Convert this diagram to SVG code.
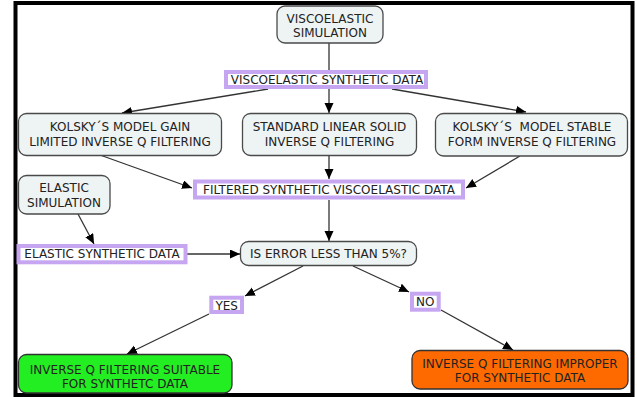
<svg xmlns="http://www.w3.org/2000/svg" width="637" height="397" viewBox="0 0 637 397">
<style>
text{font-family:"DejaVu Sans",Verdana,sans-serif;font-size:12px;fill:#222;text-anchor:middle}
.n{fill:#eef3f4;stroke:#4a4a4a;stroke-width:1.3}
.p{fill:#fff;stroke:#c6a6f0;stroke-width:4}
.c line{stroke:#333;stroke-width:1.3;marker-end:url(#ah)}
</style>
<defs>
<marker id="ah" markerUnits="userSpaceOnUse" markerWidth="11" markerHeight="10" refX="10" refY="4.5" orient="auto">
<path d="M0,0 L10,4.5 L0,9 z" fill="#000"/>
</marker>
</defs>
<rect x="0" y="0" width="637" height="397" fill="#fff"/>
<rect x="15.5" y="3" width="617" height="392" fill="#fff" stroke="#000" stroke-width="4"/>
<g class="c" id="connectors">
<line x1="329" y1="43" x2="329" y2="70" style="marker-end:none"/>
<line x1="268" y1="89" x2="122" y2="113"/>
<line x1="329" y1="89" x2="329" y2="113"/>
<line x1="392" y1="89" x2="526" y2="112"/>
<line x1="100" y1="155" x2="192" y2="188"/>
<line x1="329" y1="155" x2="329" y2="179"/>
<line x1="520" y1="156" x2="466" y2="188"/>
<line x1="329" y1="200" x2="329" y2="241"/>
<line x1="78" y1="214" x2="94" y2="244"/>
<line x1="187" y1="254" x2="240" y2="254"/>
<line x1="303" y1="266" x2="245" y2="296"/>
<line x1="209" y1="314" x2="127" y2="354"/>
<line x1="353" y1="266" x2="409" y2="292"/>
<line x1="441" y1="310" x2="513" y2="350"/>
</g>
<g id="viscoelastic-simulation">
<rect class="n" x="277" y="6" width="106" height="37" rx="8"/>
<text x="330" y="22.7">VISCOELASTIC</text>
<text x="330" y="36.7">SIMULATION</text>
</g>
<g id="viscoelastic-synthetic-data">
<rect class="p" x="226" y="72" width="200" height="15"/>
<text x="327" y="84">VISCOELASTIC SYNTHETIC DATA</text>
</g>
<g id="kolsky-gain">
<rect class="n" x="18.5" y="113.5" width="203" height="42" rx="8"/>
<text x="120" y="130.5">KOLSKY´S MODEL GAIN</text>
<text x="120" y="146">LIMITED INVERSE Q FILTERING</text>
</g>
<g id="standard-linear-solid">
<rect class="n" x="242.5" y="113.5" width="174" height="42" rx="8"/>
<text x="329.5" y="130.5">STANDARD LINEAR SOLID</text>
<text x="329.5" y="146">INVERSE Q FILTERING</text>
</g>
<g id="kolsky-stable">
<rect class="n" x="435.5" y="113.5" width="192" height="42.5" rx="8"/>
<text x="532" y="130.5" style="white-space:pre">KOLSKY´S  MODEL STABLE</text>
<text x="532" y="146">FORM INVERSE Q FILTERING</text>
</g>
<g id="filtered-data">
<rect class="p" x="195" y="181.5" width="268" height="16"/>
<text x="329" y="194">FILTERED SYNTHETIC VISCOELASTIC DATA</text>
</g>
<g id="elastic-simulation">
<rect class="n" x="18.5" y="175.5" width="91.5" height="38.5" rx="8"/>
<text x="64" y="192.3">ELASTIC</text>
<text x="64" y="206.5">SIMULATION</text>
</g>
<g id="elastic-synthetic-data">
<rect class="p" x="18.5" y="246" width="167" height="16.3"/>
<text x="102" y="258.3">ELASTIC SYNTHETIC DATA</text>
</g>
<g id="error-check">
<rect class="n" x="240.5" y="241.5" width="176" height="24" rx="8"/>
<text x="328.5" y="258.3">IS ERROR LESS THAN 5%?</text>
</g>
<g id="yes">
<rect class="p" x="211.3" y="297.7" width="30.7" height="14.3"/>
<text x="226.7" y="310">YES</text>
</g>
<g id="no">
<rect class="p" x="412" y="293.7" width="26.7" height="16"/>
<text x="425.3" y="305.7">NO</text>
</g>
<g id="suitable">
<rect x="18.5" y="354.5" width="213.5" height="38.5" rx="8" fill="#22ee22" stroke="#333" stroke-width="1.3"/>
<text x="125" y="374">INVERSE Q FILTERING SUITABLE</text>
<text x="125" y="387.7">FOR SYNTHETC DATA</text>
</g>
<g id="improper">
<rect x="412" y="350.5" width="216" height="38.5" rx="8" fill="#ff6a00" stroke="#333" stroke-width="1.3"/>
<text x="520" y="367.7">INVERSE Q FILTERING IMPROPER</text>
<text x="520" y="382.3">FOR SYNTHETIC DATA</text>
</g>
</svg>
